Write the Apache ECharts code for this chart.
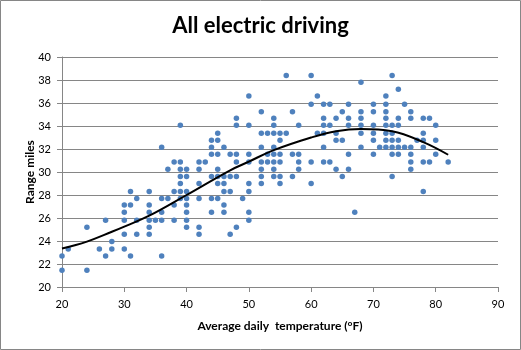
<!DOCTYPE html>
<html>
<head>
<meta charset="utf-8">
<script src="https://cdn.jsdelivr.net/npm/echarts@6/dist/echarts.min.js"></script>
<style>
  html, body { margin: 0; padding: 0; background: #fff; }
  #main { width: 521px; height: 350px; }
</style>
</head>
<body>
<div id="main"></div>
<script>
var myChart = echarts.init(document.getElementById('main'));

// range levels (miles) and the temperatures (°F) recorded at each level
var rangeRows = [
    [38.4, [56, 60, 73]],
    [37.8, [68]],
    [37.2, [74]],
    [36.6, [50, 61, 72]],
    [35.9, [60, 62, 63, 66, 70, 72, 75]],
    [35.25, [52, 57, 65, 68, 70, 72, 76]],
    [34.67, [48, 54, 62, 64, 66, 68, 72, 74, 76, 78, 79]],
    [34.06, [39, 48, 50, 54, 58, 62, 63, 66, 68, 70, 72, 73, 74, 80]],
    [33.36, [45, 52, 53, 54, 55, 56, 61, 62, 64, 68, 70, 72, 73, 78]],
    [32.76, [44, 45, 55, 64, 65, 70, 72, 73, 74, 77, 78, 80]],
    [32.15, [36, 44, 46, 52, 54, 62, 68, 71, 72, 73, 74, 75, 76, 78]],
    [31.54, [44, 45, 47, 48, 50, 53, 54, 55, 57, 58, 66, 70, 73, 74, 76, 80]],
    [30.87, [38, 39, 42, 43, 48, 50, 52, 53, 54, 55, 58, 60, 62, 63, 76, 78, 79, 82]],
    [30.23, [37, 39, 40, 42, 45, 52, 54, 58, 64, 66, 76]],
    [29.6, [39, 40, 44, 45, 46, 47, 48, 52, 54, 55, 57, 65, 73]],
    [29.0, [39, 42, 45, 46, 50, 52, 55, 60]],
    [28.3, [31, 34, 38, 39, 40, 46, 47, 50, 78]],
    [27.7, [32, 36, 37, 39, 40, 42, 44, 45, 49]],
    [27.13, [30, 31, 34, 38, 40, 46]],
    [26.5, [30, 34, 36, 40, 44, 46, 50, 67]],
    [25.8, [27, 30, 32, 34, 35, 36, 38, 40, 50]],
    [25.19, [24, 34, 40, 42, 48]],
    [24.58, [30, 32, 34, 42, 47]],
    [23.96, [28]],
    [23.3, [21, 26, 28, 30]],
    [22.7, [20, 27, 31, 36]],
    [21.45, [20, 24]]
];

// trend line
var trendTemps = [20, 24, 28, 30, 34, 40, 47, 50, 54, 60, 64, 68, 73, 78, 82];
var trendRange = [23.35, 23.95, 24.8, 25.25, 26.2, 28.0, 30.15, 30.9, 31.9, 33.0, 33.55, 33.75, 33.55, 32.6, 31.5];

var points = [];
rangeRows.forEach(function (row) {
    row[1].forEach(function (t) {
        points.push([t, row[0]]);
    });
});

var trend = trendTemps.map(function (t, i) {
    return [t, trendRange[i]];
});

var font = 'Lato, "Open Sans", sans-serif';

option = {
    animation: false,
    title: {
        text: 'All electric driving',
        left: 'center',
        top: 10,
        textStyle: {
            fontFamily: font,
            fontSize: 22,
            fontWeight: 'bold',
            color: '#000'
        }
    },
    graphic: [
        {
            type: 'rect',
            shape: { x: 0.5, y: 0.5, width: 520, height: 349 },
            style: { fill: 'none', stroke: '#868686', lineWidth: 1 },
            silent: true
        }
    ],
    grid: {
        left: 62,
        right: 23,
        top: 57,
        bottom: 63
    },
    xAxis: {
        type: 'value',
        min: 20,
        max: 90,
        interval: 10,
        name: 'Average daily  temperature (°F)',
        nameLocation: 'middle',
        nameGap: 33,
        nameTextStyle: {
            fontFamily: font,
            fontSize: 12,
            fontWeight: 'bold',
            color: '#000'
        },
        axisLine: { lineStyle: { color: '#868686' } },
        axisTick: { show: true, length: 5, lineStyle: { color: '#868686' } },
        axisLabel: { fontFamily: font, fontSize: 11, color: '#000', margin: 12 },
        splitLine: { show: false }
    },
    yAxis: {
        type: 'value',
        min: 20,
        max: 40,
        interval: 2,
        name: 'Range miles',
        nameLocation: 'middle',
        nameGap: 26,
        nameMoveOverlap: false,
        nameTextStyle: {
            fontFamily: font,
            fontSize: 12,
            fontWeight: 'bold',
            color: '#000'
        },
        axisLine: { show: true, lineStyle: { color: '#868686' } },
        axisTick: { show: true, length: 5, lineStyle: { color: '#868686' } },
        axisLabel: { fontFamily: font, fontSize: 11, color: '#000', margin: 11 },
        splitLine: { show: true, lineStyle: { color: '#868686', width: 1 } }
    },
    series: [
        {
            name: 'Range',
            type: 'scatter',
            symbol: 'circle',
            symbolSize: 5.5,
            itemStyle: { color: '#4F81BD', opacity: 1 },
            data: points
        },
        {
            name: 'Trend',
            type: 'line',
            smooth: 0.4,
            showSymbol: false,
            lineStyle: { color: '#000', width: 2 },
            data: trend
        }
    ]
};

myChart.setOption(option);
</script>
</body>
</html>
